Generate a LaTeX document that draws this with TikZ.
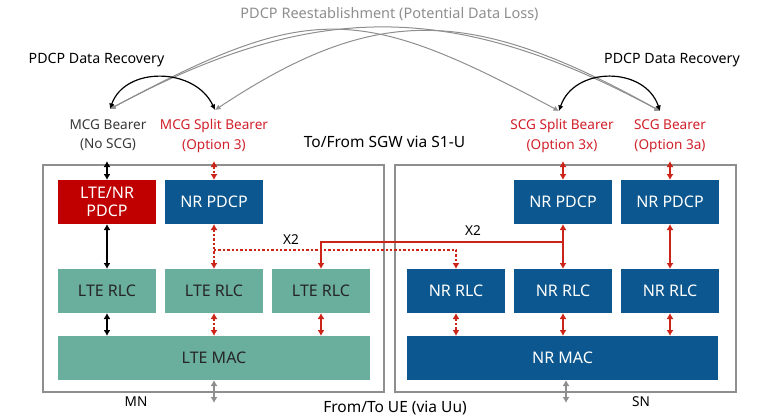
\documentclass[tikz,border=0pt]{standalone}
\usepackage{fontspec}
\setmainfont{Noto Sans}
\usetikzlibrary{arrows.meta}

\definecolor{pdcpred}{HTML}{C00000}
\definecolor{nrblue}{HTML}{0C578F}
\definecolor{lteteal}{HTML}{6AAE9E}
\definecolor{linkred}{HTML}{CC2418}
\definecolor{labelred}{HTML}{D0202A}
\definecolor{frame}{HTML}{8E8E8E}

\tikzset{
  layer/.style={minimum width=98pt, minimum height=44pt, inner sep=0pt, outer sep=0pt,
    align=center, font=\fontsize{16}{18}\selectfont},
  ltebox/.style={layer, fill=lteteal, text=black!85},
  nrbox/.style={layer, fill=nrblue, text=white},
  mixbox/.style={layer, fill=pdcpred, text=white},
  nodebox/.style={draw=frame, line width=1.5pt, minimum width=341pt, minimum height=227pt, inner sep=0pt},
  tag/.style={align=center, font=\fontsize{13.6}{19.5}\selectfont, inner sep=1pt},
  bigtag/.style={tag, font=\fontsize{14.5}{17}\selectfont},
  blackline/.style={line width=2pt, black},
  redline/.style={line width=2pt, linkred},
  reddot/.style={line width=2.4pt, linkred, dash pattern=on 2.4pt off 2pt},
  greyline/.style={line width=2pt, frame},
  arc/.style={<->, >={Latex[length=5.5pt,width=5.5pt]}},
}

\begin{document}
\begin{tikzpicture}[x=1pt,y=-1pt,>={Latex[length=6pt,width=7pt]}]
      \useasboundingbox (0,0) rectangle (774,418);
      % master node and secondary node frames
      \node[nodebox] (mn) at (213.5,278.5) {};
      \node[nodebox] (sn) at (565.5,278.5) {};
      % MN protocol stack
      \node[mixbox] (pdcpA) at (107,202) {LTE/NR\\PDCP};
      \node[nrbox] (pdcpB) at (214,202) {NR PDCP};
      \node[ltebox] (rlcA) at (107,291) {LTE RLC};
      \node[ltebox] (rlcB) at (214,291) {LTE RLC};
      \node[ltebox] (rlcC) at (321,291) {LTE RLC};
      \node[ltebox, minimum width=312pt] (macL) at (214,358) {LTE MAC};
      % SN protocol stack
      \node[nrbox] (nrpdcpA) at (563,202) {NR PDCP};
      \node[nrbox] (nrpdcpB) at (670,202) {NR PDCP};
      \node[nrbox] (nrrlcA) at (456,291) {NR RLC};
      \node[nrbox] (nrrlcB) at (563,291) {NR RLC};
      \node[nrbox] (nrrlcC) at (670,291) {NR RLC};
      \node[nrbox, minimum width=311pt] (macN) at (562.5,358) {NR MAC};
      % bearer labels
      \node[tag, text=black!78] (mcgB) at (108,135) {MCG Bearer\\(No SCG)};
      \node[tag, text=labelred] (mcgS) at (214,136) {MCG Split Bearer\\(Option 3)};
      \node[tag, text=labelred] (scgS) at (562,136) {SCG Split Bearer\\(Option 3x)};
      \node[tag, text=labelred] (scgB) at (670,136) {SCG Bearer\\(Option 3a)};
      % other texts
      \node[bigtag, text=frame] (reest) at (389.5,14) {PDCP Reestablishment (Potential Data Loss)};
      \node[tag, font=\fontsize{14.2}{17}\selectfont] (recL) at (96.5,60) {PDCP Data Recovery};
      \node[tag, font=\fontsize{14.2}{17}\selectfont] (recR) at (672,60) {PDCP Data Recovery};
      \node[bigtag, font=\fontsize{15.5}{17}\selectfont] (sgw) at (384.5,142) {To/From SGW via S1-U};
      \node[bigtag, font=\fontsize{15.5}{17}\selectfont] (ue) at (395,408) {From/To UE (via Uu)};
      \node[tag] (mnlab) at (136,402) {MN};
      \node[tag] (snlab) at (641,402) {SN};
      \node[tag] (x2a) at (291,240) {X2};
      \node[tag] (x2b) at (473,231) {X2};
      % arc end points above the bearer labels
      \coordinate (tipA) at (110,109);
      \coordinate (tipB) at (215,110);
      \coordinate (tipC) at (559,111);
      \coordinate (tipD) at (660,111);
      % reestablishment arcs between MN and SN bearers
      \draw[arc, frame, line width=1pt] (tipA) .. controls +(200,-107) and +(-200,-107) .. (tipC);
      \draw[arc, frame, line width=1pt] (tipA) .. controls +(205,-110) and +(-205,-110) .. (tipD);
      \draw[arc, frame, line width=1pt] (tipB) .. controls +(160,-106) and +(-190,-106) .. (tipD);
      % data recovery arcs
      \draw[arc, black, line width=1.2pt] (tipA) .. controls +(15,-43) and +(-20,-43) .. (tipB);
      \draw[arc, black, line width=1.2pt] (tipC) .. controls +(15,-45) and +(-15,-45) .. (tipD);
      % S1-U entry points
      \coordinate (inA) at (107,161);
      \coordinate (inB) at (214,161);
      \coordinate (inC) at (563,161);
      \coordinate (inD) at (670,161);
      \draw[blackline, <->] (inA) -- (pdcpA.north);
      \draw[reddot, <->] (inB) -- (pdcpB.north);
      \draw[redline, <->] (inC) -- (nrpdcpA.north);
      \draw[redline, <->] (inD) -- (nrpdcpB.north);
      % PDCP to RLC
      \draw[blackline, <->] (pdcpA) -- (rlcA);
      \draw[reddot, <->] (pdcpB) -- (rlcB);
      \draw[redline, <->] (nrpdcpA) -- (nrrlcB);
      \draw[redline, <->] (nrpdcpB) -- (nrrlcC);
      % X2 legs across the nodes
      \coordinate (x2dot) at (214,250);
      \coordinate (x2sol) at (563,242);
      \draw[reddot, ->] (x2dot) -| (nrrlcA.north);
      \draw[redline, ->] (x2sol) -| (rlcC.north);
      % RLC to MAC
      \draw[blackline, <->] (rlcA) -- (rlcA |- macL.north);
      \draw[reddot, <->] (rlcB) -- (macL);
      \draw[redline, <->] (rlcC) -- (rlcC |- macL.north);
      \draw[reddot, <->] (nrrlcA) -- (nrrlcA |- macN.north);
      \draw[redline, <->] (nrrlcB) -- (nrrlcB |- macN.north);
      \draw[redline, <->] (nrrlcC) -- (nrrlcC |- macN.north);
      % Uu towards the UE
      \coordinate (ueA) at (214,403);
      \coordinate (ueB) at (566,403);
      \draw[greyline, <->] (macL.south) -- (ueA);
      \draw[greyline, <->] (macN.south -| ueB) -- (ueB);
    \end{tikzpicture}
\end{document}
